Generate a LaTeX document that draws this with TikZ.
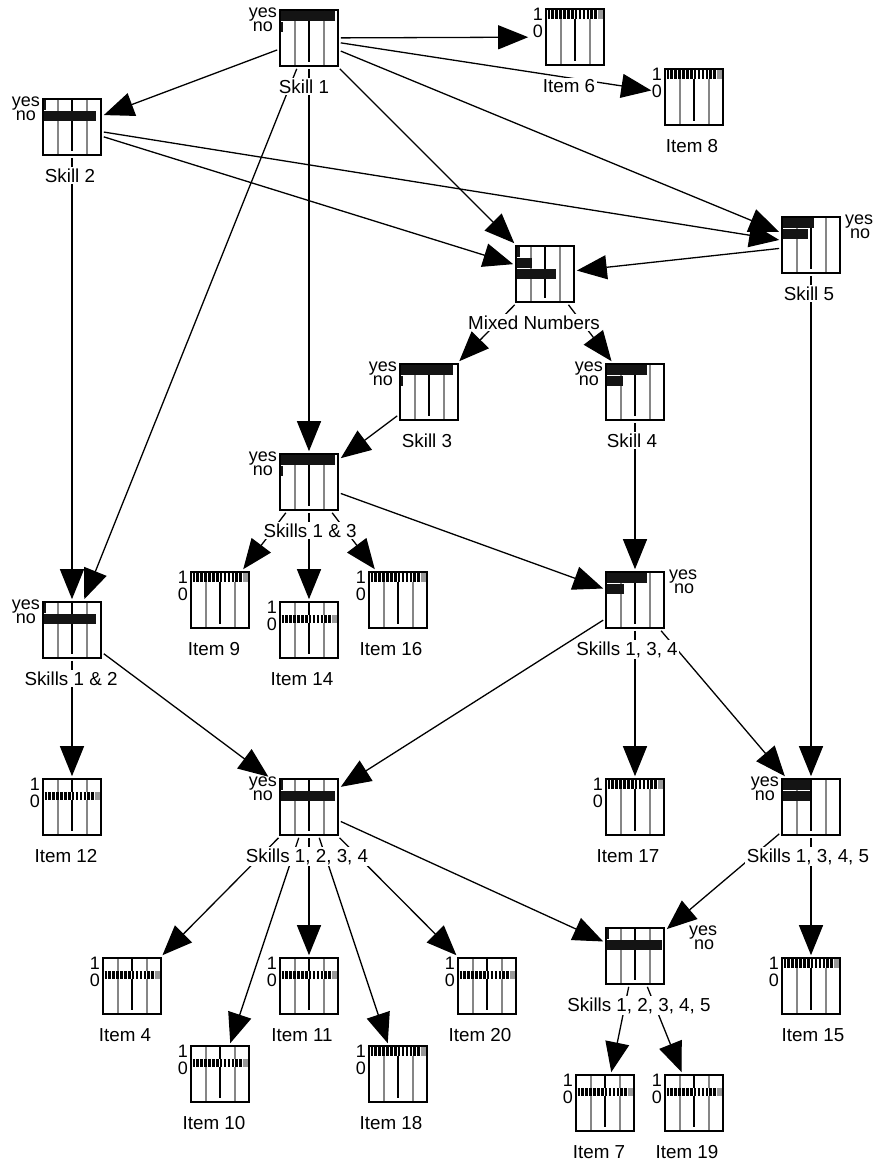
\documentclass[tikz,border=0pt]{standalone}
\usepackage{fontspec}
\setmainfont{Liberation Sans}
\usetikzlibrary{arrows.meta}
\pgfdeclarelayer{bg}
\pgfsetlayers{bg,main}
\tikzset{
  box/.style={draw=black, line width=1.4pt, fill=white, minimum width=58pt, minimum height=56pt, inner sep=0pt, outer sep=2.8pt},
  greyline/.style={draw=gray!95, line width=1.8pt},
  midline/.style={draw=black, line width=1.3pt},
  barfill/.style={fill=black!92},
  hatch/.style={draw=black, dash pattern=on 2.6pt off 1.3pt},
  conn/.style={line width=1.3pt, -{Triangle[length=30pt,width=24pt]}},
  captxt/.style={font=\fontsize{18.8}{20}\selectfont, fill=white, inner sep=1.5pt, anchor=base},
  stl/.style={font=\fontsize{18}{19}\selectfont, inner sep=0pt},
  yn/.style={font=\fontsize{18}{14.5}\selectfont, inner sep=0pt},
}
\newcommand{\nodebox}[3]{%
  \node[box] (#1) at ({#2+29},{#3+28}) {};
  \draw[greyline] ({#2+15},{#3+0.8}) -- ({#2+15},{#3+55.2});
  \draw[greyline] ({#2+44},{#3+0.8}) -- ({#2+44},{#3+55.2});
  \draw[midline] ({#2+29},{#3+0.8}) -- ({#2+29},{#3+52});
}
\newcommand{\pbar}[4]{\fill[barfill] ({#1+1.2},{#2+1.2+11*(#3-1)}) rectangle ++(#4,9.5);}
\newcommand{\hrow}[4]{%
  \fill[white] ({#1+0.8},{#2+#3-#4/2}) rectangle ({#1+57.2},{#2+#3+#4/2});
  \draw[hatch, line width=#4pt] ({#1+1.5},{#2+#3}) -- ({#1+52},{#2+#3});
  \fill[gray!80] ({#1+52},{#2+#3-#4/2}) rectangle ({#1+57.2},{#2+#3+#4/2});
}
\newcommand{\itemnode}[6]{%
  \nodebox{#1}{#2}{#3}
  \ifnum#4=1\relax \hrow{#2}{#3}{5.5}{9}\else \hrow{#2}{#3}{17}{8}\fi
  \node[stl, anchor=base east] (#1-a) at ({#2-3},{#3+11}) {1};
  \node[stl, anchor=base east] (#1-b) at ({#2-3},{#3+28}) {0};
  \node[captxt] (#1-c) at ({#5},{#3+83.5}) {#6};
}
\newcommand{\skillL}[7]{%
  \nodebox{#1}{#2}{#3}
  \pbar{#2}{#3}{1}{#4}\pbar{#2}{#3}{2}{#5}
  \node[yn, align=right, anchor=base east] (#1-a) at ({#2-3},{#3+21.5}) {yes\\no\hspace*{4pt}};
  \node[captxt] (#1-c) at ({#6},{#3+83.5}) {#7};
}
\newcommand{\skillR}[8]{%
  \nodebox{#1}{#2}{#3}
  \pbar{#2}{#3}{1}{#4}\pbar{#2}{#3}{2}{#5}
  \node[yn, align=left, anchor=base west] (#1-a) at ({#2+58+#8},{#3+21.5}) {yes\\\hspace*{5pt}no};
  \node[captxt] (#1-c) at ({#6},{#3+83.5}) {#7};
}
\begin{document}
\begin{tikzpicture}[x=1pt,y=-1pt]
\useasboundingbox (0,0) rectangle (873,1163);
\begin{pgfonlayer}{bg}
\fill[white] (0,0) rectangle (873,1163);
\end{pgfonlayer}

\skillL{s1}{280}{10}{54}{2}{304}{Skill 1}
\skillL{s2}{43}{99}{2}{52}{70}{Skill 2}
\itemnode{i6}{546}{9}{1}{569}{Item 6}
\itemnode{i8}{665}{69}{1}{692}{Item 8}
\nodebox{mn}{516}{246}
\pbar{516}{246}{1}{3}\pbar{516}{246}{2}{15}\pbar{516}{246}{3}{39}
\node[captxt] (mn-c) at (534,329.5) {Mixed Numbers};
\skillR{s5}{782}{217}{31}{25}{809}{Skill 5}{5}
\skillL{s3}{400}{364}{52}{2}{427}{Skill 3}
\skillL{s4}{606}{364}{40}{16}{632}{Skill 4}
\skillL{s13}{280}{454}{54}{2}{310}{Skills 1 \& 3}
\skillR{s134}{606}{572}{40}{17}{627}{Skills 1, 3, 4}{5}
\itemnode{i9}{191}{572}{1}{214}{Item 9}
\itemnode{i14}{280}{602}{0}{302}{Item 14}
\itemnode{i16}{369}{572}{1}{391}{Item 16}
\skillL{s12}{43}{602}{2}{52}{71}{Skills 1 \& 2}
\itemnode{i12}{43}{779}{0}{66}{Item 12}
\skillL{s1234}{280}{779}{2}{54}{307}{Skills 1, 2, 3, 4}
\itemnode{i17}{606}{779}{1}{628}{Item 17}
\skillL{s1345}{782}{779}{27}{27}{808}{Skills 1, 3, 4, 5}
\skillR{s12345}{606}{928}{2}{55}{639}{Skills 1, 2, 3, 4, 5}{25}
\itemnode{i4}{103}{958}{0}{125}{Item 4}
\itemnode{i11}{280}{958}{0}{302}{Item 11}
\itemnode{i20}{458}{958}{0}{480}{Item 20}
\itemnode{i15}{782}{958}{1}{813}{Item 15}
\itemnode{i10}{191}{1046}{0}{214}{Item 10}
\itemnode{i18}{369}{1046}{1}{391}{Item 18}
\itemnode{i7}{576}{1075}{0}{599}{Item 7}
\itemnode{i19}{665}{1075}{0}{687}{Item 19}

\begin{pgfonlayer}{bg}
\draw[conn, shorten >=15pt] (s1) -- (i6);
\draw[conn, shorten >=11pt] (s1) -- (i8);
\draw[conn] (s1) -- (s2);
\draw[conn] (s1) -- (s5);
\draw[conn] (s1) -- (mn);
\draw[conn] (s1) -- (s13);
\draw[conn] (s1) -- (s12);
\draw[conn] (s2) -- (mn);
\draw[conn] (s2) -- (s5);
\draw[conn] (s2) -- (s12);
\draw[conn] (s5) -- (mn);
\draw[conn] (s5) -- (s1345);
\draw[conn] (mn) -- (s3);
\draw[conn] (mn) -- (s4);
\draw[conn] (s3) -- (s13);
\draw[conn] (s4) -- (s134);
\draw[conn] (s13) -- (i9);
\draw[conn] (s13) -- (i14);
\draw[conn] (s13) -- (i16);
\draw[conn] (s13) -- (s134);
\draw[conn] (s12) -- (i12);
\draw[conn, shorten >=11pt] (s12) -- (s1234);
\draw[conn] (s134) -- (s1234);
\draw[conn] (s134) -- (i17);
\draw[conn] (s134) -- (s1345);
\draw[conn] (s1234) -- (i4);
\draw[conn] (s1234) -- (i10);
\draw[conn] (s1234) -- (i11);
\draw[conn] (s1234) -- (i18);
\draw[conn] (s1234) -- (i20);
\draw[conn] (s1234) -- (s12345);
\draw[conn] (s1345) -- (s12345);
\draw[conn] (s1345) -- (i15);
\draw[conn] (s12345) -- (i7);
\draw[conn] (s12345) -- (i19);
\end{pgfonlayer}
\end{tikzpicture}
\end{document}
